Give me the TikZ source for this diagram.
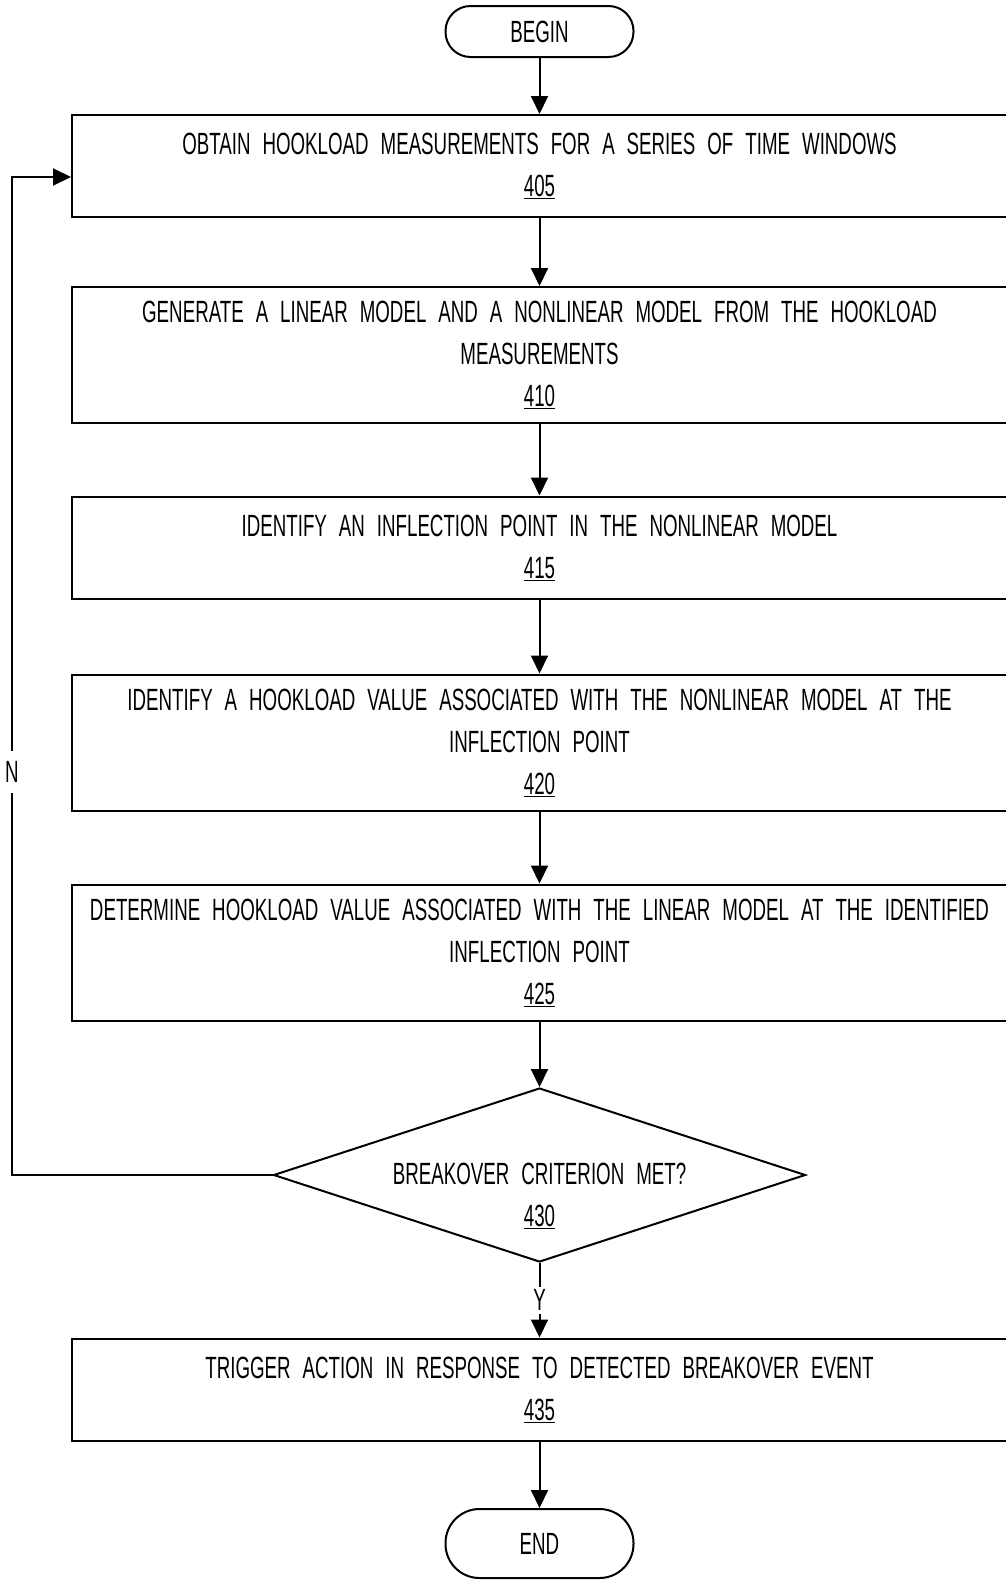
\documentclass[tikz,border=0pt]{standalone}
\usepackage{fontspec}
\setmainfont{Liberation Sans}[FakeStretch=0.61, WordSpace=2.3]
\usetikzlibrary{shapes.geometric}
\usetikzlibrary{arrows.meta}

\begin{document}
\begin{tikzpicture}[x=1pt, y=-1pt, font=\fontsize{30.7pt}{42pt}\selectfont]
        % ================= 样式 =================
        \tikzset{
            % 起止框 (BEGIN / END)
            term/.style={draw=black, line width=2pt, rounded corners=25pt, minimum width=188pt, minimum height=51pt, inner sep=0pt},
            % 步骤框
            pbox/.style={draw=black, line width=2pt, minimum width=935pt, minimum height=102pt, inner sep=0pt, align=center},
            tallbox/.style={pbox, minimum height=136pt},
            % 判断框
            dbox/.style={diamond, draw=black, line width=2pt, minimum width=532pt, minimum height=174pt, inner sep=0pt},
            % 流程箭头
            flow/.style={line width=2pt, -{Triangle[width=17pt, length=18pt]}},
            % 分支标签 (Y / N)
            lbl/.style={fill=white, inner sep=3pt}
        }
        \def\cx{539.5}

        \useasboundingbox (0,0) rectangle (1005,1580);

        % ================= 节点 =================
        \node[term] (begin) at (\cx,31.5) {BEGIN};
        \node[pbox] (b405) at (\cx,166) {OBTAIN HOOKLOAD MEASUREMENTS FOR A SERIES OF TIME WINDOWS\\\underline{405}};
        \node[tallbox] (b410) at (\cx,355) {GENERATE A LINEAR MODEL AND A NONLINEAR MODEL FROM THE HOOKLOAD\\MEASUREMENTS\\\underline{410}};
        \node[pbox] (b415) at (\cx,547.5) {IDENTIFY AN INFLECTION POINT IN THE NONLINEAR MODEL\\\underline{415}};
        \node[tallbox] (b420) at (\cx,742.5) {IDENTIFY A HOOKLOAD VALUE ASSOCIATED WITH THE NONLINEAR MODEL AT THE\\INFLECTION POINT\\\underline{420}};
        \node[tallbox] (b425) at (\cx,952.5) {DETERMINE HOOKLOAD VALUE ASSOCIATED WITH THE LINEAR MODEL AT THE IDENTIFIED\\INFLECTION POINT\\\underline{425}};
        \node[dbox] (d430) at (\cx,1175) {};
        \node[align=center] (t430) at (\cx,1196) {BREAKOVER CRITERION MET?\\\underline{430}};
        \node[pbox] (b435) at (\cx,1389.5) {TRIGGER ACTION IN RESPONSE TO DETECTED BREAKOVER EVENT\\\underline{435}};
        \node[term, minimum height=69pt, rounded corners=34pt] (end) at (\cx,1543.5) {END};

        % ================= 连线 =================
        \draw[flow] (begin) -- (b405);
        \draw[flow] (b405) -- (b410);
        \draw[flow] (b410) -- (b415);
        \draw[flow] (b415) -- (b420);
        \draw[flow] (b420) -- (b425);
        \draw[flow] (b425) -- (d430);
        \draw[flow] (d430) -- node[lbl] (ylbl) {Y} (b435);
        \draw[flow] (b435) -- (end);

        % 否: 回到 405
        \coordinate (loop_bot) at (12,1175);
        \coordinate (loop_top) at (12,177);
        \draw[flow] (d430.west) -- (loop_bot) -- (loop_top) -- (b405.west |- loop_top);
        \node[lbl, inner sep=10pt] (nlbl) at (12,772) {N};

\end{tikzpicture}
\end{document}
